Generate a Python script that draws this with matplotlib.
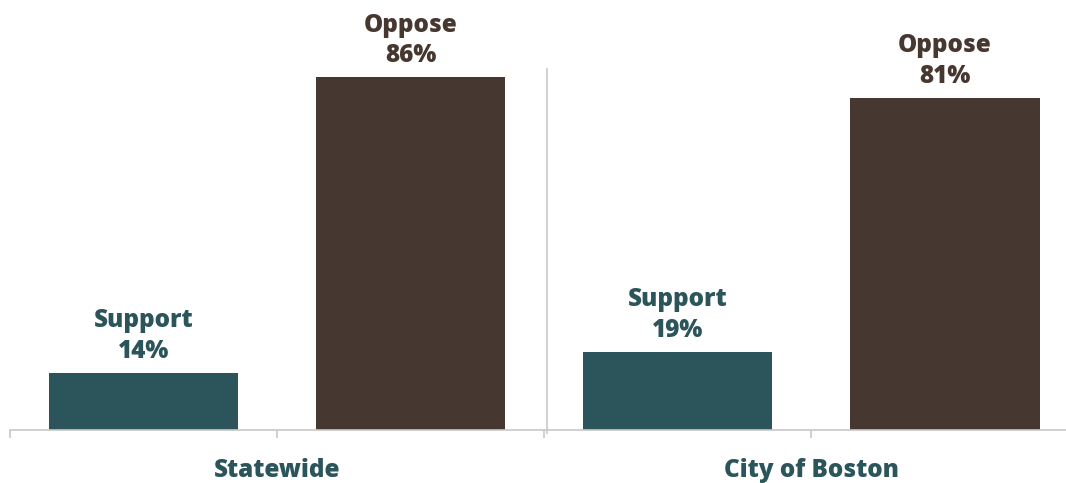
import matplotlib.pyplot as plt
from matplotlib.transforms import blended_transform_factory

# Data
groups = ["Statewide", "City of Boston"]
answers = ["Support", "Oppose"]
support = [14, 19]
oppose = [86, 81]

teal = "#2b555a"
brown = "#473731"
grey = "#c8c8c8"

plt.rcParams['font.family'] = ['Open Sans', 'DejaVu Sans']

fig = plt.figure(figsize=(10.66, 4.83), dpi=100)
# axes: left edge at x=10px, bottom at y=430px, top of figure, right edge of figure
ax = fig.add_axes([10 / 1066, 53 / 483, 1056 / 1066, 430 / 483])

vals = []
cols = []
labs = []
for g in range(len(groups)):
    vals += [support[g], oppose[g]]
    cols += [teal, brown]
    labs += answers

xs = list(range(len(vals)))
ax.bar(xs, vals, width=0.71, color=cols)

for x, v, c, lab in zip(xs, vals, cols, labs):
    ax.annotate(lab + "\n" + str(v) + "%", (x, v), xytext=(0, 6.5),
                textcoords="offset points", ha="center", va="bottom",
                fontsize=17.5, fontweight=800, color=c, linespacing=1.3)

ax.set_xlim(-0.5, 3.454)
ax.set_ylim(0, 104.9)

# axis line and ticks at slot boundaries
for s in ["top", "right", "left"]:
    ax.spines[s].set_visible(False)
ax.spines["bottom"].set_color(grey)
ax.spines["bottom"].set_linewidth(1.2)
ax.set_yticks([])
ax.set_xticks([-0.5, 0.5, 1.5, 2.5])
ax.set_xticklabels([])
ax.tick_params(axis="x", length=6, width=1.2, color=grey)

# separator between the two groups
ax.plot([1.51, 1.51], [88, -0.8], color=grey, lw=1.2, clip_on=False)

# group labels
tr = blended_transform_factory(ax.transData, ax.transAxes)
for i, g in enumerate(groups):
    ax.text(2 * i + 0.5, -0.095, g, transform=tr, ha="center", va="center",
            fontsize=17.5, fontweight=800, color=teal)

fig.savefig("out.png", dpi=100)
